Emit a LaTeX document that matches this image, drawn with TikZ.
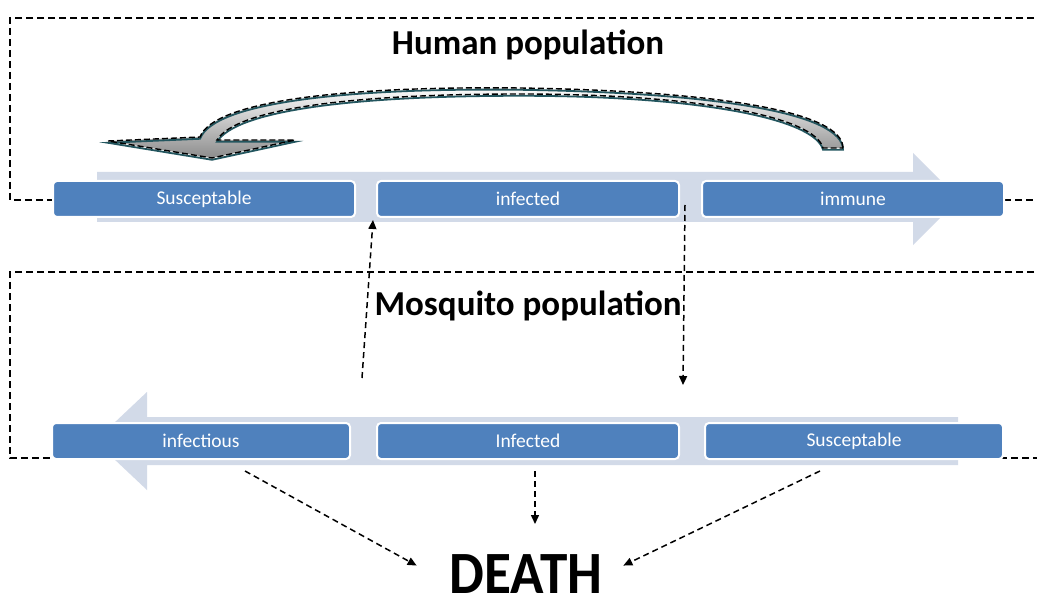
\documentclass[tikz,border=0pt]{standalone}
\usepackage{fontspec}
\setmainfont{Carlito}
\usetikzlibrary{arrows.meta,calc}
\definecolor{boxblue}{HTML}{4F81BD}
\definecolor{bandgrey}{HTML}{D2DAE8}
\definecolor{rimteal}{HTML}{23565F}
\tikzset{
  region/.style={draw=black, line width=1.6pt, dash pattern=on 7pt off 4pt},
  stagebox/.style={rounded corners=4pt, fill=boxblue, draw=white, line width=2pt,
    text=white, minimum width=302pt, minimum height=36pt, inner sep=0pt,
    font=\fontsize{19.5}{22}\selectfont},
  flow/.style={draw=black, line width=1.5pt, dash pattern=on 6pt off 4pt,
    -{Triangle[length=9pt,width=8pt]}},
  band/.style={fill=bandgrey, draw=none},
  heading/.style={font=\fontsize{35}{40}\selectfont\bfseries, inner sep=0pt, anchor=base}
}
\begin{document}
\begin{tikzpicture}[x=1pt,y=-1pt]
\useasboundingbox (0,0) rectangle (1037,607);
\fill[white] (0,0) rectangle (1037,607);

% dashed population regions
\draw[region] (1045,18) -- (10,18) -- (10,200) -- (1045,200);
\draw[region] (1045,272) -- (10,272) -- (10,458) -- (1045,458);

% wide process arrows behind the stages
\path[band] (97,172) -- (913,172) -- (913,153) -- (959,199) -- (913,245) -- (913,222) -- (97,222) -- cycle;
\path[band] (958,417) -- (147,417) -- (147,392) -- (95,441) -- (147,490) -- (147,465) -- (958,465) -- cycle;

% human stages
\node[stagebox] (hS) at (204,199) {Susceptable};
\node[stagebox] (hI) at (528,199) {infected};
\node[stagebox] (hR) at (853,199) {immune};

% mosquito stages
\node[stagebox, minimum width=298pt] (mI) at (201,441) {infectious};
\node[stagebox] (mE) at (528,441) {Infected};
\node[stagebox, minimum width=298pt] (mS) at (854,441) {Susceptable};

% headings
\node[heading] (hTitle) at (528,55) {Human population};
\node[heading] (mTitle) at (528,315) {Mosquito population};
\node[heading, font=\fontsize{60}{66}\selectfont\bfseries] (death) at (526,593) {\scalebox{0.92}[1]{DEATH}};

% curved return arrow from immune back to susceptible
\def\returnarrow{(843,148) .. controls (843,112) and (720,91) .. (520,88)
  .. controls (350,86) and (214,100) .. (200,137)
  -- (108,141) -- (212,158) -- (295,140) -- (217,140)
  .. controls (236,109) and (350,94) .. (520,94)
  .. controls (700,94) and (815,117) .. (823,148) -- cycle}
\shade[top color=white, bottom color=black!45] \returnarrow;
\draw[rimteal, line width=1.8pt, yshift=-1.8pt] \returnarrow;
\draw[black, line width=1.4pt, dash pattern=on 6pt off 3pt] \returnarrow;

% transmission between populations
\coordinate (bite) at (362,378);
\coordinate (carry) at (683,385);
\draw[flow] (bite) -- ($(hI.south west)+(-3,2)$);
\draw[flow] ($(hI.east)+(5,6)$) -- (carry);

% deaths
\draw[flow] ($(mI.south)+(44,11)$) -- ($(death.west)+(-33,-8)$);
\draw[flow] ($(mE.south)+(7,11)$) -- ($(mE.south)+(7,64)$);
\draw[flow] ($(mS.south)+(-34,11)$) -- ($(death.east)+(21,-8)$);
\end{tikzpicture}
\end{document}
